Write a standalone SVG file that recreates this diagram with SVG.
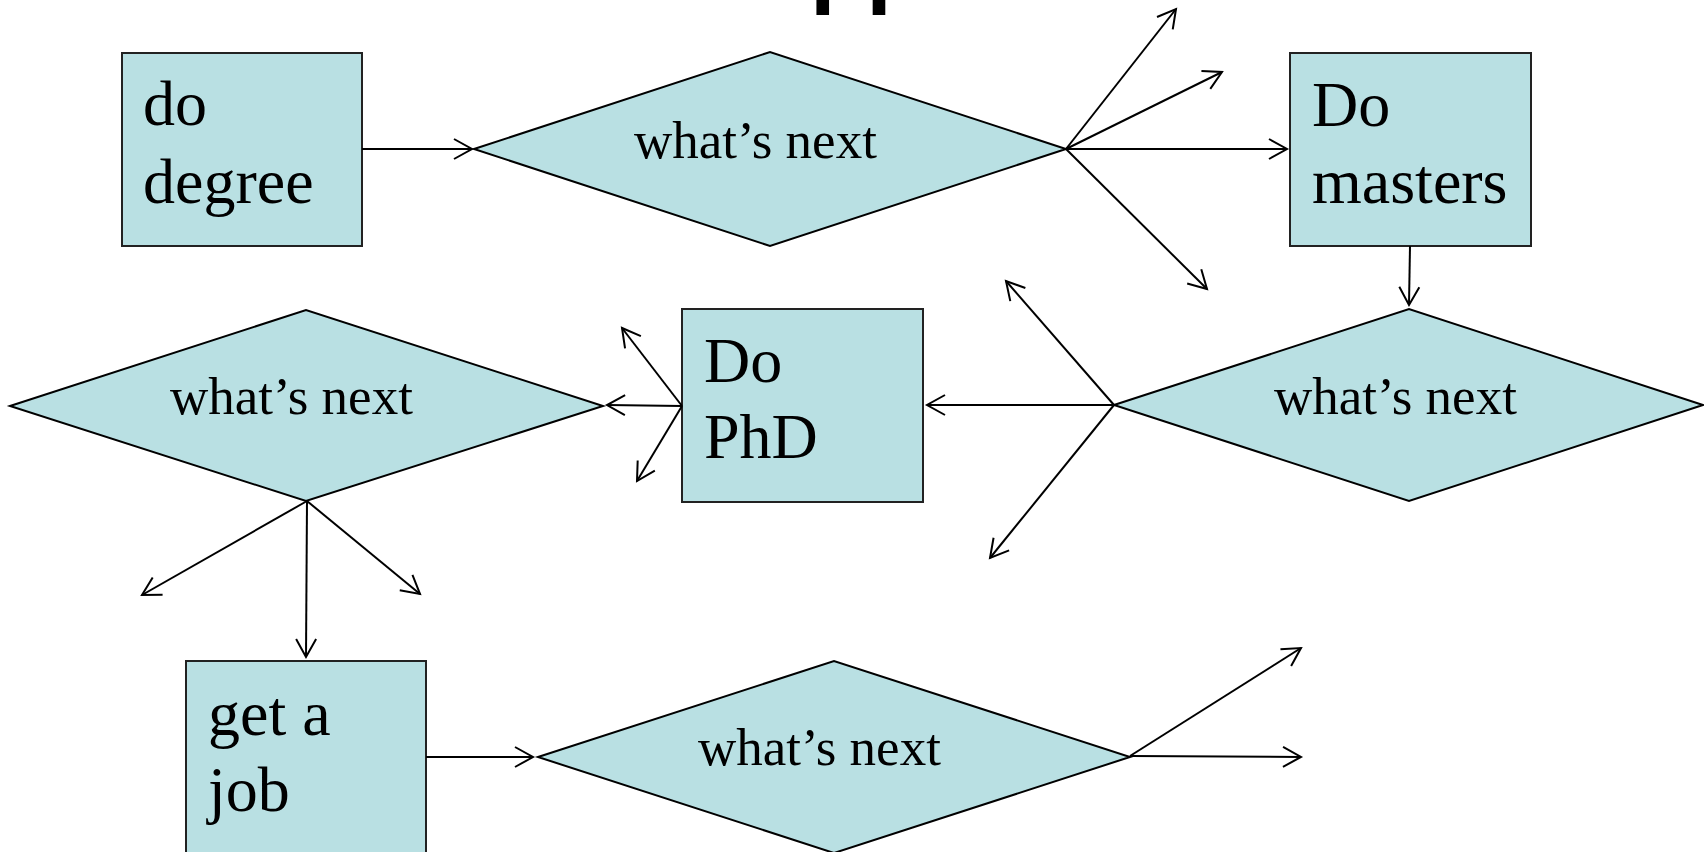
<svg xmlns="http://www.w3.org/2000/svg" width="1704" height="852" viewBox="0 0 1704 852">
<style>
.box{fill:#B9E0E3;stroke:#222;stroke-width:2}
.dia{fill:#B9E0E3;stroke:#000;stroke-width:2}
.bt{font-family:"Liberation Serif","Times New Roman",serif;font-size:64px;fill:#000}
.dt{font-family:"Liberation Serif","Times New Roman",serif;font-size:53px;fill:#000}
.c line{stroke:#000;stroke-width:2;marker-end:url(#ah)}
.title{font-family:"Liberation Sans",Arial,sans-serif;font-weight:bold;font-size:92px;fill:#000}
</style>
<defs>
<marker id="ah" markerUnits="userSpaceOnUse" markerWidth="22" markerHeight="24" viewBox="0 0 22 24" refX="19" refY="12" orient="auto">
<path d="M1,2 L19,12 L1,22" fill="none" stroke="#000" stroke-width="2"/>
</marker>
</defs>
<rect width="1704" height="852" fill="#fff"/>
<text class="title" x="810" y="-4">pp</text>
<g id="n-degree"><rect class="box" x="122" y="53" width="240" height="193"/><text class="bt" x="143" y="125">do</text><text class="bt" x="143" y="203">degree</text></g>
<g id="n-next1"><polygon class="dia" points="474,149 770,52 1066,149 770,246"/><text class="dt" x="634" y="158">what&#8217;s next</text></g>
<g id="n-masters"><rect class="box" x="1290" y="53" width="241" height="193"/><text class="bt" x="1312" y="126">Do</text><text class="bt" x="1312" y="203">masters</text></g>
<g id="n-next2"><polygon class="dia" points="1114,405 1409,309 1703,405 1409,501"/><text class="dt" x="1274" y="414">what&#8217;s next</text></g>
<g id="n-phd"><rect class="box" x="682" y="309" width="241" height="193"/><text class="bt" x="704" y="382">Do</text><text class="bt" x="704" y="458">PhD</text></g>
<g id="n-next3"><polygon class="dia" points="10,406 306,310 603,406 306,501"/><text class="dt" x="170" y="414">what&#8217;s next</text></g>
<g id="n-job"><rect class="box" x="186" y="661" width="240" height="200"/><text class="bt" x="208" y="735">get a</text><text class="bt" x="208" y="811">job</text></g>
<g id="n-next4"><polygon class="dia" points="538,757 834,661 1130,757 834,853"/><text class="dt" x="698" y="765">what&#8217;s next</text></g>
<g id="connectors" class="c">
<line x1="362" y1="149" x2="472" y2="149"/>
<line x1="1066" y1="149" x2="1176" y2="9"/>
<line x1="1066" y1="149" x2="1222" y2="72"/>
<line x1="1066" y1="149" x2="1287" y2="149"/>
<line x1="1066" y1="149" x2="1207" y2="289"/>
<line x1="1410" y1="246" x2="1409" y2="305"/>
<line x1="1114" y1="405" x2="927" y2="405"/>
<line x1="1114" y1="405" x2="1006" y2="281"/>
<line x1="1114" y1="405" x2="990" y2="558"/>
<line x1="682" y1="406" x2="607" y2="405"/>
<line x1="682" y1="406" x2="622" y2="328"/>
<line x1="682" y1="406" x2="637" y2="481"/>
<line x1="307" y1="501" x2="142" y2="595"/>
<line x1="307" y1="501" x2="420" y2="594"/>
<line x1="307" y1="501" x2="306" y2="657"/>
<line x1="426" y1="757" x2="533" y2="757"/>
<line x1="1130" y1="756" x2="1301" y2="648"/>
<line x1="1130" y1="756" x2="1301" y2="757"/>
</g>
</svg>
